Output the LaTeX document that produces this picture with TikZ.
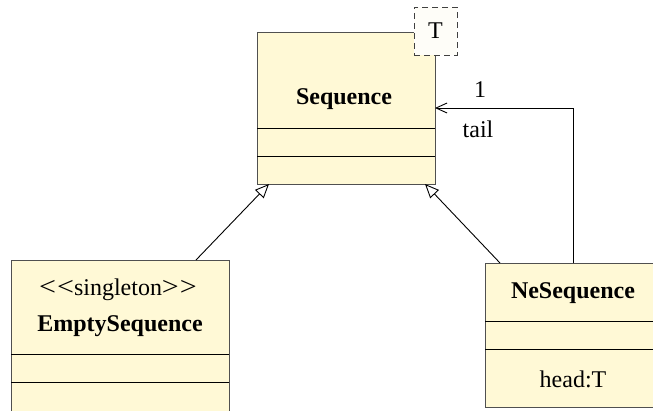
\documentclass[tikz,border=0pt]{standalone}
\usepackage{fontspec}
\usepackage{graphicx}
\setmainfont{Liberation Serif}
\usetikzlibrary{arrows.meta,calc}
\definecolor{clsfill}{RGB}{255,249,214}
\definecolor{clsdraw}{RGB}{80,80,80}
\definecolor{tfill}{RGB}{254,253,248}
\newcommand{\wlt}{\scalebox{1.25}[1.1]{<}}
\newcommand{\wgt}{\scalebox{1.25}[1.1]{>}}
\tikzset{
  cls/.style={draw=clsdraw, fill=clsfill, line width=1pt, inner sep=0pt, outer sep=0pt, rectangle},
  divider/.style={draw=black, line width=0.9pt},
  tparam/.style={draw=black!75, fill=tfill, dash pattern=on 6pt off 4pt, line width=0.9pt, inner sep=0pt, outer sep=0pt, minimum width=43pt, minimum height=48pt},
  lbl/.style={inner sep=0pt, font=\fontsize{24}{28}\selectfont},
  blbl/.style={inner sep=0pt, font=\fontsize{24}{28}\selectfont\bfseries},
  inherit/.style={draw=black, line width=0.9pt, -{Triangle[open, length=14pt, width=12pt, fill=white]}},
  assoc/.style={draw=black, line width=0.9pt, -{Straight Barb[length=11pt, width=10pt]}},
}
\begin{document}
\begin{tikzpicture}[x=1pt, y=-1pt]
\useasboundingbox (0,0) rectangle (653,410);
\clip (0,0) rectangle (653,410);
% Sequence
\node[cls, minimum width=178pt, minimum height=152pt] (seq) at (346,108) {};
\draw[divider] (seq.west |- 0,128) coordinate (sd1a) -- (seq.east |- 0,128) coordinate (sd1b);
\draw[divider] (seq.west |- 0,156) coordinate (sd2a) -- (seq.east |- 0,156) coordinate (sd2b);
\node[tparam] (tpar) at (435.5,31) {};
\node[lbl] (tparlbl) at (tpar.center) {T};
\node[blbl] (seqname) at (344,99) {Sequence};
% EmptySequence
\node[cls, minimum width=218pt, minimum height=170pt] (empty) at (120,345) {};
\draw[divider] (empty.west |- 0,354) coordinate (ed1a) -- (empty.east |- 0,354) coordinate (ed1b);
\draw[divider] (empty.west |- 0,382) coordinate (ed2a) -- (empty.east |- 0,382) coordinate (ed2b);
\node[lbl] (stereo) at (118,290) {\wlt\kern1pt\wlt singleton\wgt\kern1pt\wgt};
\node[blbl] (emptyname) at (120,326) {EmptySequence};
% NeSequence
\node[cls, minimum width=176pt, minimum height=144pt] (nes) at (573,335) {};
\draw[divider] (nes.west |- 0,321) coordinate (nd1a) -- (nes.east |- 0,321) coordinate (nd1b);
\draw[divider] (nes.west |- 0,349) coordinate (nd2a) -- (nes.east |- 0,349) coordinate (nd2b);
\node[blbl] (nesname) at (573,293) {NeSequence};
\node[lbl] (head) at (573,379) {head:T};
% connectors
\coordinate (e1s) at ($(empty.north east)+(-33,0)$);
\coordinate (e1e) at ($(seq.south west)+(12,0)$);
\draw[inherit] (e1s) -- (e1e);
\coordinate (e2s) at ($(nes.north west)+(15,0)$);
\coordinate (e2e) at ($(seq.south east)+(-10,0)$);
\draw[inherit] (e2s) -- (e2e);
\draw[assoc] (nes.north) |- (seq.east);
\node[lbl] (mult) at (480,90) {1};
\node[lbl] (role) at (478,129) {tail};
\end{tikzpicture}
\end{document}
